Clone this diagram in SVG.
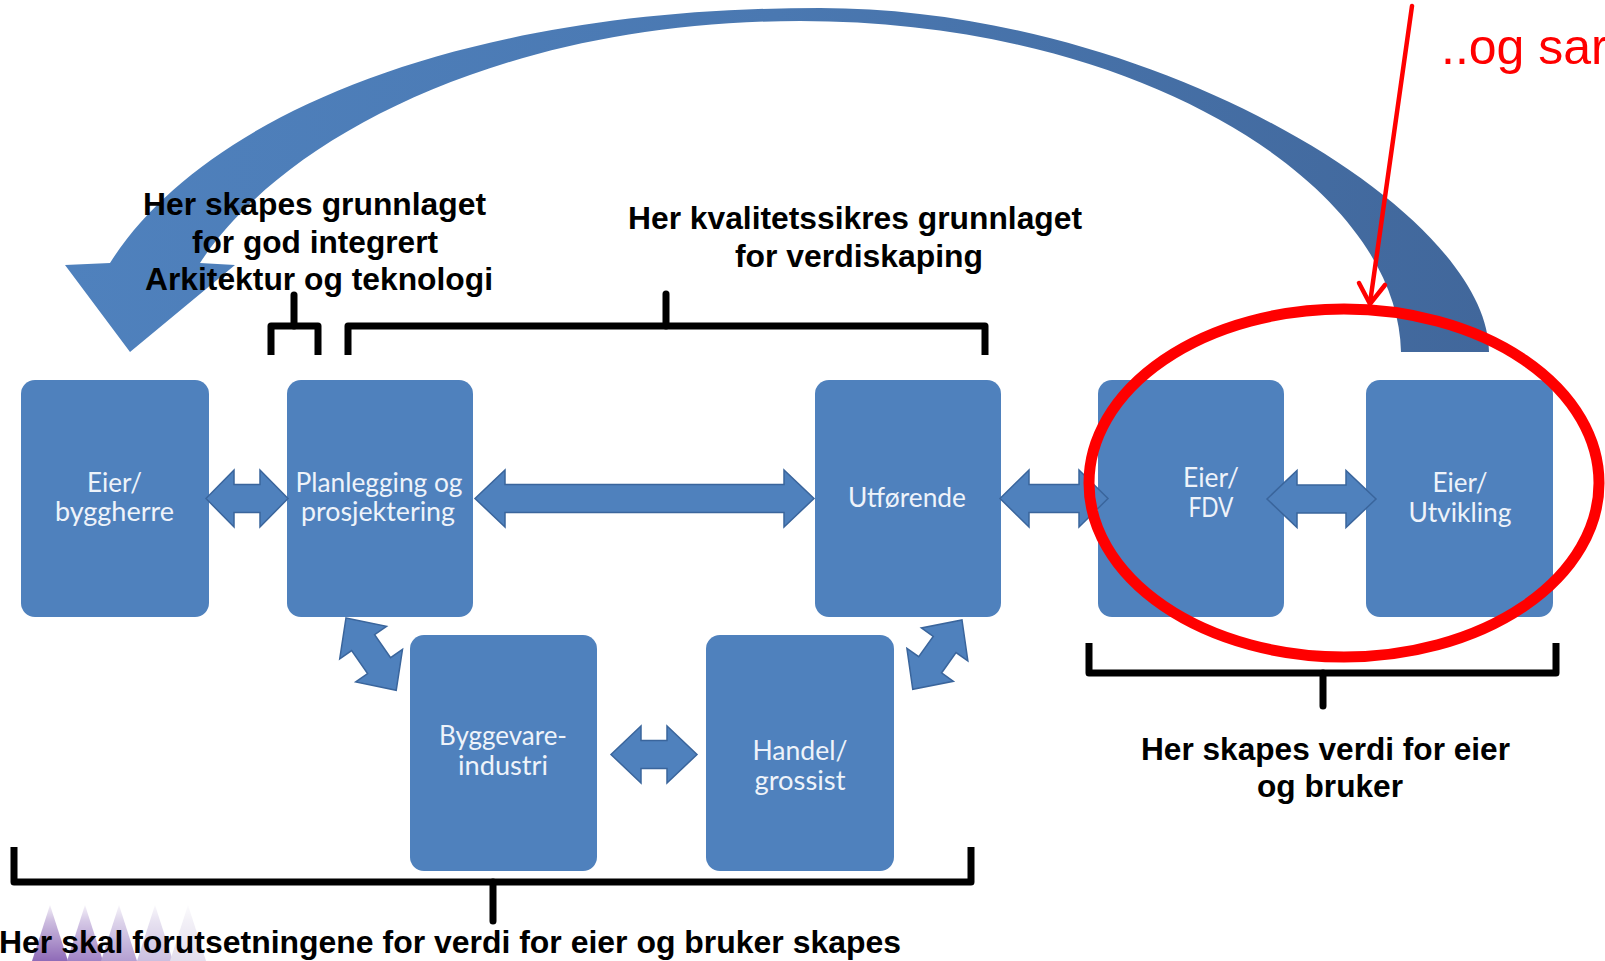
<svg xmlns="http://www.w3.org/2000/svg" width="1605" height="961" viewBox="0 0 1605 961">
<style>
.box{fill:#4F81BD;}
.bt{font-family:Lato,"Open Sans","Noto Sans",sans-serif;font-size:26px;fill:#EEF3FA;text-anchor:middle;}
.dbl{fill:#4F81BD;stroke:#3A659C;stroke-width:1.5;stroke-linejoin:miter;}
.lbl{font-family:"Liberation Sans",Arial,sans-serif;font-weight:bold;font-size:32px;fill:#000;text-anchor:middle;}
.br{fill:none;stroke:#000;stroke-width:7;stroke-linejoin:round;stroke-linecap:butt;}
.stem{fill:none;stroke:#000;stroke-width:7;stroke-linecap:round;}
.red{fill:none;stroke:#FF0000;}
</style>
<defs>
<linearGradient id="bigG" gradientUnits="userSpaceOnUse" x1="65" y1="0" x2="1489" y2="0">
<stop offset="0" stop-color="#4F81BD"/>
<stop offset="0.5" stop-color="#4A78B1"/>
<stop offset="1" stop-color="#41679B"/>
</linearGradient>
<linearGradient id="fade" x1="0" y1="0" x2="0" y2="1">
<stop offset="0" stop-color="#FFFFFF" stop-opacity="1"/>
<stop offset="0.35" stop-color="#FFFFFF" stop-opacity="0.55"/>
<stop offset="1" stop-color="#FFFFFF" stop-opacity="0"/>
</linearGradient>
</defs>
<rect width="1605" height="961" fill="#FFFFFF"/>

<g id="decor">
<polygon points="50,905 32,961 68,961" fill="#8F6BB8"/>
<polygon points="85,905 67,961 103,961" fill="#A184C6"/>
<polygon points="119,905 101,961 137,961" fill="#B4A0D2"/>
<polygon points="155,905 137,961 173,961" fill="#CBBFE0"/>
<polygon points="188,905 170,961 206,961" fill="#E3DEED"/>
<rect x="25" y="900" width="190" height="61" fill="url(#fade)"/>
</g>

<g id="connectors">
<path id="feedback-arrow" fill="url(#bigG)" d="M1489 352 C1489 210 1150 8 820 8 C450 8 200 120 110 263 L65 265 L130 352 L235 265 L200 263 C280 140 500 21 800 21 C1140 21 1398 185 1401 352 Z"/>
</g>

<g id="node-eier-byggherre">
<rect class="box" x="21" y="380" width="188" height="237" rx="14"/>
<text class="bt" x="114.5" y="492" textLength="55" lengthAdjust="spacingAndGlyphs">Eier/</text>
<text class="bt" x="114.5" y="521" textLength="119" lengthAdjust="spacingAndGlyphs">byggherre</text>
</g>
<g id="node-planlegging">
<rect class="box" x="287" y="380" width="186" height="237" rx="14"/>
<text class="bt" x="379" y="492" textLength="167" lengthAdjust="spacingAndGlyphs">Planlegging og</text>
<text class="bt" x="378" y="521" textLength="154" lengthAdjust="spacingAndGlyphs">prosjektering</text>
</g>
<g id="node-utforende">
<rect class="box" x="815" y="380" width="186" height="237" rx="14"/>
<text class="bt" x="907" y="507" textLength="118" lengthAdjust="spacingAndGlyphs">Utførende</text>
</g>
<g id="node-eier-fdv">
<rect class="box" x="1098" y="380" width="186" height="237" rx="14"/>
<text class="bt" x="1211" y="487" textLength="56" lengthAdjust="spacingAndGlyphs">Eier/</text>
<text class="bt" x="1211" y="517" textLength="45" lengthAdjust="spacingAndGlyphs">FDV</text>
</g>
<g id="node-eier-utvikling">
<rect class="box" x="1366" y="380" width="187" height="237" rx="14"/>
<text class="bt" x="1460" y="492" textLength="55" lengthAdjust="spacingAndGlyphs">Eier/</text>
<text class="bt" x="1460" y="522" textLength="103" lengthAdjust="spacingAndGlyphs">Utvikling</text>
</g>
<g id="node-byggevareindustri">
<rect class="box" x="410" y="635" width="187" height="236" rx="14"/>
<text class="bt" x="503" y="745" textLength="128" lengthAdjust="spacingAndGlyphs">Byggevare-</text>
<text class="bt" x="503" y="775" textLength="90" lengthAdjust="spacingAndGlyphs">industri</text>
</g>
<g id="node-handel-grossist">
<rect class="box" x="706" y="635" width="188" height="236" rx="14"/>
<text class="bt" x="800" y="760" textLength="95" lengthAdjust="spacingAndGlyphs">Handel/</text>
<text class="bt" x="800" y="790" textLength="91" lengthAdjust="spacingAndGlyphs">grossist</text>
</g>

<g id="double-arrows">
<path class="dbl" transform="translate(206,498.5)" d="M0 0 L28 -28.5 L28 -14 L54 -14 L54 -28.5 L82 0 L54 28.5 L54 14 L28 14 L28 28.5 Z"/>
<path class="dbl" transform="translate(475,498.5)" d="M0 0 L30 -28.5 L30 -14 L309 -14 L309 -28.5 L339 0 L309 28.5 L309 14 L30 14 L30 28.5 Z"/>
<path class="dbl" transform="translate(1000,498.5)" d="M0 0 L29 -28.5 L29 -14 L79 -14 L79 -28.5 L108 0 L79 28.5 L79 14 L29 14 L29 28.5 Z"/>
<path class="dbl" transform="translate(1267,499)" d="M0 0 L30 -28.5 L30 -14 L79 -14 L79 -28.5 L109 0 L79 28.5 L79 14 L30 14 L30 28.5 Z"/>
<path class="dbl" transform="translate(611,754.5)" d="M0 0 L30 -28.5 L30 -14 L56 -14 L56 -28.5 L86 0 L56 28.5 L56 14 L30 14 L30 28.5 Z"/>
<path class="dbl" transform="translate(346,618) rotate(55.2)" d="M0 0 L30 -28.5 L30 -14 L58 -14 L58 -28.5 L88 0 L58 28.5 L58 14 L30 14 L30 28.5 Z"/>
<path class="dbl" transform="translate(962,620) rotate(125.4)" d="M0 0 L30 -28.5 L30 -14 L55 -14 L55 -28.5 L85 0 L55 28.5 L55 14 L30 14 L30 28.5 Z"/>
</g>

<g id="brackets">
<path class="br" d="M271 355 V326 H318 V355"/>
<path class="stem" d="M294 326 V295"/>
<path class="br" d="M348 355 V326 H985 V355"/>
<path class="stem" d="M666 326 V294"/>
<path class="br" d="M1089 643 V673 H1556 V643"/>
<path class="stem" d="M1323 673 V706"/>
<path class="br" d="M14 847 V882 H971 V847"/>
<path class="stem" d="M493 882 V921"/>
</g>

<g id="labels">
<text class="lbl" x="314.5" y="215" textLength="343" lengthAdjust="spacingAndGlyphs">Her skapes grunnlaget</text>
<text class="lbl" x="315" y="252.5" textLength="246" lengthAdjust="spacingAndGlyphs">for god integrert</text>
<text class="lbl" x="319" y="290" textLength="348" lengthAdjust="spacingAndGlyphs">Arkitektur og teknologi</text>
<text class="lbl" x="855" y="229" textLength="454" lengthAdjust="spacingAndGlyphs">Her kvalitetssikres grunnlaget</text>
<text class="lbl" x="859" y="267" textLength="248" lengthAdjust="spacingAndGlyphs">for verdiskaping</text>
<text class="lbl" x="1325.5" y="760" textLength="369" lengthAdjust="spacingAndGlyphs">Her skapes verdi for eier</text>
<text class="lbl" x="1330" y="797" textLength="146" lengthAdjust="spacingAndGlyphs">og bruker</text>
<text class="lbl" x="-1" y="953" style="text-anchor:start" textLength="902" lengthAdjust="spacingAndGlyphs">Her skal forutsetningene for verdi for eier og bruker skapes</text>
</g>

<g id="highlight">
<ellipse class="red" cx="1344" cy="483" rx="255" ry="174" stroke-width="11"/>
<path class="red" stroke-width="4.5" stroke-linecap="round" d="M1412 6 L1370 303"/>
<path class="red" stroke-width="4.5" stroke-linecap="round" stroke-linejoin="miter" d="M1359 283 L1370 304 L1385 285"/>
<text x="1441" y="64" style="font-family:'Liberation Sans',Arial,sans-serif;font-size:50px;fill:#FF0000">..og sar</text>
</g>
</svg>
